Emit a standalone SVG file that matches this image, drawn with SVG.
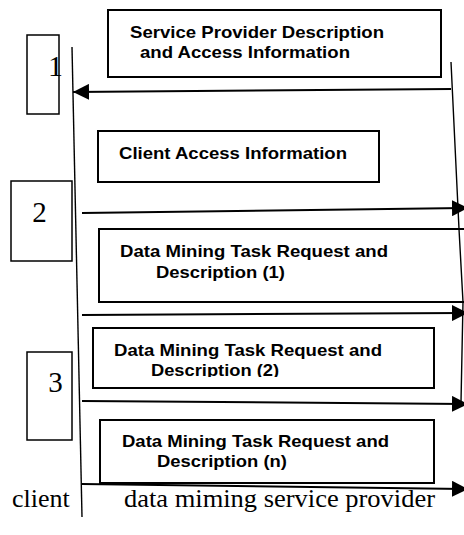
<svg xmlns="http://www.w3.org/2000/svg" width="464" height="535" viewBox="0 0 464 535">
  <style>
    .box { fill: #fff; stroke: #000; stroke-width: 2; }
    .num { fill: #fff; stroke: #000; stroke-width: 1.5; }
    .lbl { font-family: "Liberation Sans", Arial, sans-serif; font-weight: bold; font-size: 16.5px; fill: #000; }
    .serif { font-family: "Liberation Serif", "Times New Roman", serif; fill: #000; }
    .life { fill: none; stroke: #000; stroke-width: 1.4; }
    .msg { fill: none; stroke: #000; stroke-width: 2; marker-end: url(#head); }
  </style>
  <defs>
    <marker id="head" markerUnits="userSpaceOnUse" markerWidth="16" markerHeight="16" viewBox="0 0 15 15" refX="15" refY="7.5" orient="auto">
      <path d="M0,0 L15,7.5 L0,15 Z" fill="#000"/>
    </marker>
    <clipPath id="clip2">
      <rect x="90" y="325" width="350" height="52"/>
    </clipPath>
  </defs>
  <rect width="464" height="535" fill="#fff"/>

  <!-- step numbers -->
  <g id="step-1">
    <rect class="num" x="27" y="35" width="32" height="79"/>
    <text class="serif" x="48" y="76" font-size="30">1</text>
  </g>
  <g id="step-2">
    <rect class="num" x="11" y="181" width="61" height="80"/>
    <text class="serif" x="39.5" y="222" font-size="29" text-anchor="middle">2</text>
  </g>
  <g id="step-3">
    <rect class="num" x="27" y="352" width="45" height="88"/>
    <text class="serif" x="55.5" y="392" font-size="29" text-anchor="middle">3</text>
  </g>

  <!-- message boxes -->
  <g id="provider-description">
    <rect class="box" x="108" y="10" width="333" height="67"/>
    <text class="lbl" x="130" y="38" textLength="254" lengthAdjust="spacingAndGlyphs">Service Provider Description</text>
    <text class="lbl" x="140" y="58" textLength="210" lengthAdjust="spacingAndGlyphs">and Access Information</text>
  </g>
  <g id="client-access">
    <rect class="box" x="98" y="131" width="281" height="51"/>
    <text class="lbl" x="119" y="159" textLength="228" lengthAdjust="spacingAndGlyphs">Client Access Information</text>
  </g>
  <g id="task-1">
    <rect class="box" x="99" y="229" width="372" height="73"/>
    <text class="lbl" x="120" y="257" textLength="268" lengthAdjust="spacingAndGlyphs">Data Mining Task Request and</text>
    <text class="lbl" x="156" y="278" textLength="129" lengthAdjust="spacingAndGlyphs">Description (1)</text>
  </g>
  <g id="task-2">
    <rect class="box" x="93" y="328" width="341" height="60"/>
    <text class="lbl" x="114" y="356" textLength="268" lengthAdjust="spacingAndGlyphs">Data Mining Task Request and</text>
    <text class="lbl" x="151" y="376" textLength="128" lengthAdjust="spacingAndGlyphs" clip-path="url(#clip2)">Description (2)</text>
  </g>
  <g id="task-n">
    <rect class="box" x="100" y="420" width="334" height="63"/>
    <text class="lbl" x="122" y="447" textLength="267" lengthAdjust="spacingAndGlyphs">Data Mining Task Request and</text>
    <text class="lbl" x="157" y="467" textLength="130" lengthAdjust="spacingAndGlyphs">Description (n)</text>
  </g>

  <!-- lifelines and messages -->
  <g id="connectors">
    <polyline class="life" points="72,47 82,517"/>
    <polyline class="life" points="451,62 459,229 463,302 461,402"/>
    <line class="msg" x1="451" y1="89" x2="73" y2="92"/>
    <line class="msg" x1="82" y1="213" x2="468" y2="208"/>
    <line class="msg" x1="82" y1="315" x2="468" y2="313"/>
    <line class="msg" x1="82" y1="401" x2="468" y2="404"/>
    <line class="msg" x1="82" y1="484" x2="468" y2="489"/>
  </g>

  <!-- participant names -->
  <g id="participant-client">
    <text class="serif" x="12" y="507" font-size="26">client</text>
  </g>
  <g id="participant-provider">
    <text class="serif" x="124" y="507" font-size="26" textLength="311" lengthAdjust="spacingAndGlyphs">data miming service provider</text>
  </g>
</svg>
